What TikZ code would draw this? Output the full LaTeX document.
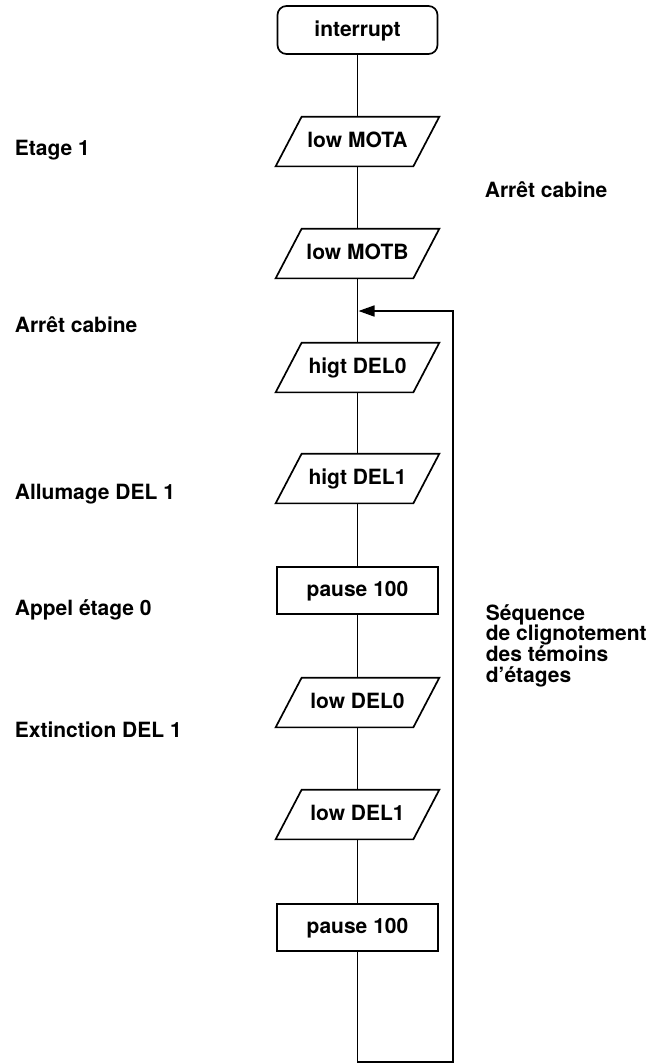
\documentclass[tikz,border=0pt]{standalone}
\usepackage{fontspec}
\setmainfont{TeX Gyre Heros}
\usetikzlibrary{arrows.meta}
\begin{document}
\begin{tikzpicture}[x=1pt,y=-1pt,
  line width=1.7pt,
  txt/.style={font=\fontsize{21}{20.3}\selectfont\bfseries, inner sep=0pt},
  boxtxt/.style={txt, text height=15pt, text depth=3pt},
  startbox/.style={draw, rounded corners=9pt, minimum width=160pt, minimum height=48pt, boxtxt},
  procbox/.style={draw, minimum width=161pt, minimum height=47pt, boxtxt},
  iobox/.style={minimum width=136pt, minimum height=48pt, boxtxt},
  lbl/.style={txt, anchor=base west}
]
\useasboundingbox (0,0) rectangle (671,1063);

\node[startbox] (int) at (357.5,30) {interrupt};
\node[iobox] (mota) at (357.5,141.5) {low MOTA};
\node[iobox] (motb) at (357.5,253.5) {low MOTB};
\node[iobox] (d0h) at (357.5,367.5) {higt DEL0};
\node[iobox] (d1h) at (357.5,478.5) {higt DEL1};
\node[procbox] (p1) at (357.5,590.5) {pause 100};
\node[iobox] (d0l) at (357.5,702.5) {low DEL0};
\node[iobox] (d1l) at (357.5,814.5) {low DEL1};
\node[procbox] (p2) at (357.5,927.5) {pause 100};

\foreach \n in {mota,motb,d0h,d1h,d0l,d1l}
  \draw ([xshift=13pt]\n.north west) -- ([xshift=13pt]\n.north east)
     -- ([xshift=-13pt]\n.south east) -- ([xshift=-13pt]\n.south west) -- cycle;

\draw (int) -- (mota) -- (motb) -- (d0h) -- (d1h) -- (p1) -- (d0l) -- (d1l) -- (p2);

\coordinate (lb) at (357.5,1062);
\coordinate (rb) at (453,1062);
\coordinate (rt) at (453,311);
\coordinate (jn) at (358.5,311);
\draw[-{Triangle[length=16pt,width=11pt]}] (p2) -- (lb) -- (rb) -- (rt) -- (jn);

\node[lbl] (l1) at (14,155.5) {Etage 1};
\node[lbl] (l2) at (14,332) {Arrêt cabine};
\node[lbl] (l3) at (14,499) {Allumage DEL 1};
\node[lbl] (l4) at (14,615) {Appel étage 0};
\node[lbl] (l5) at (14,737) {Extinction DEL 1};
\node[lbl] (r1) at (484,197) {Arrêt cabine};
\node[txt, align=left, anchor=base west] (r2) at (485,682) {Séquence\\de clignotement\\des témoins\\d’étages};
\end{tikzpicture}
\end{document}
